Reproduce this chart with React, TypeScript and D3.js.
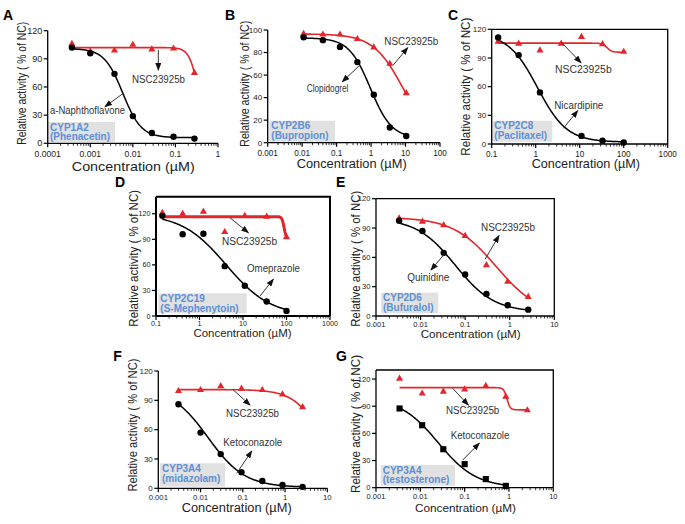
import React from 'react';
import * as d3 from 'd3';

const FONT = "'Liberation Sans', Arial, Helvetica, sans-serif";
const RED = '#e3262b';
const BLUE = '#5b8fd6';
const TAGBG = '#e1e1e1';

// ---------- data ----------
// A: CYP1A2 (Phenacetin)
const concA = [0.00037, 0.001, 0.0037, 0.01, 0.028, 0.09, 0.28];
const naphA = [102, 96, 74, 29, 11, 7, 5];
const nscA = [106, 98, 99, 105, 100, 101, 75];
const fitInhA = [101, 6, 0.0058, 2];
const fitNscA = [102, 0, 0.36, 4];
const xTicksA = [0.0001, 0.001, 0.01, 0.1, 1];

// B: CYP2B6 (Bupropion)
const concB = [0.011, 0.04, 0.125, 0.4, 1.2, 3.5, 10.5];
const clopB = [93.5, 91, 85, 71.5, 42.5, 13.5, 6];
const nscB = [96.5, 96, 96, 92, 84.5, 70, 44];
const fitInhB = [93, 4, 0.95, 1.4];
const fitNscB = [96.5, 0, 8.5, 1];
const xTicksB = [0.001, 0.01, 0.1, 1, 10, 100];

// C: CYP2C8 (Paclitaxel)
const concC = [0.14, 0.41, 1.25, 3.8, 11, 33, 100];
const concCInh = [0.14, 0.41, 1.25, 11, 33, 100];
const nicC = [111.5, 93, 54, 8.5, 3.5, 1.5];
const nscC = [107, 105, 98, 105, 112, 104.5, 96.5];
const fitInhC = [116, 2, 1.1, 1.3];
const fitNscC = [105.5, 96, 42, 8];
const xTicksC = [0.1, 1, 10, 100, 1000];

// D: CYP2C19 (S-Mephenytoin)
const concD = [0.14, 0.41, 1.23, 3.8, 11, 35, 100];
const omeD = [117.5, 96, 96.5, 58.5, 35.5, 17, 6];
const nscD = [121, 120, 122.5, 98.5, 117.5, 116.5, 92.5];
const fitInhD = [120, 0, 4.1, 0.85];
const fitNscD = [116.5, 91, 88, 18];
const xTicksD = [0.1, 1, 10, 100, 1000];

// E: CYP2D6 (Bufuralol)
const concE = [0.0033, 0.011, 0.033, 0.1, 0.3, 0.9, 2.6];
const quinE = [97.5, 87, 64.5, 42.5, 22.5, 11, 6.5];
const nscE = [100, 96.5, 93, 82, 52, 35, 19.5];
const fitInhE = [100, 4, 0.06, 1];
const fitNscE = [101, 0, 0.5, 0.9];
const xTicksE = [0.001, 0.01, 0.1, 1, 10];

// F: CYP3A4 (midazolam)
const concF = [0.003, 0.01, 0.03, 0.093, 0.29, 0.87, 2.6];
const ketoF = [86, 57, 35, 16.5, 7.5, 3.5, 1.5];
const nscF = [99.5, 100.5, 104.5, 102, 100.5, 96, 83];
const fitInhF = [103, 1, 0.015, 1];
const fitNscF = [101, 0, 8, 1.3];

// G: CYP3A4 (testosterone)
const concG = [0.0034, 0.011, 0.033, 0.1, 0.3, 0.85, 2.6];
const concGInh = [0.0034, 0.011, 0.033, 0.1, 0.3, 0.85];
const ketoG = [87.5, 69, 42.5, 26, 9.5, 2];
const nscG = [120.5, 104, 106, 108.5, 112.5, 100.5, 85.5];
const fitInhG = [100, 0, 0.025, 1];
const fitNscG = [110.5, 86, 0.9, 12];
const xTicksFG = [0.001, 0.01, 0.1, 1, 10];

const yTicks120 = [0, 30, 60, 90, 120];
const yTicks100 = [0, 20, 40, 60, 80, 100];

// ---------- layout ----------
type Ann = { text: string; x: number; y: number; w: number; from: [number, number]; to: [number, number] };
type PanelCfg = {
  letter: string; letterPos: [number, number];
  xr: [number, number]; yr: [number, number]; xDom: [number, number]; yDom: [number, number];
  xTicks: number[]; yTicks: number[]; box: number;
  inhConc: number[]; inh: number[]; nscConc: number[]; nsc: number[];
  fitInh: number[]; fitNsc: number[]; square?: boolean; nscW: number;
  yLab: [number, number, number]; xLab: [number, number, number, number];
  xtf: number; ytf: number; xto: number;
  tag: [number, number, number, number]; tagText: [string, string];
  anns: Ann[];
};

const panels: PanelCfg[] = [
  {
    letter: 'A', letterPos: [3, 19.5], xr: [47.7, 218], yr: [143.3, 30.7], xDom: [1e-4, 1], yDom: [0, 120],
    xTicks: xTicksA, yTicks: yTicks120, box: 0,
    inhConc: concA, inh: naphA, nscConc: concA, nsc: nscA, fitInh: fitInhA, fitNsc: fitNscA, nscW: 1.6,
    yLab: [26, 83.3, 123], xLab: [133.3, 171, 123, 13.5], xtf: 8.6, ytf: 9, xto: 13.8,
    tag: [48, 122, 67, 20], tagText: ['CYP1A2', '(Phenacetin)'],
    anns: [
      { text: 'NSC23925b', x: 132, y: 83, w: 53, from: [158.3, 50], to: [158.3, 70] },
      { text: 'a-Naphthoflavone', x: 50, y: 114, w: 75, from: [123.3, 93.3], to: [105, 106.7] },
    ],
  },
  {
    letter: 'B', letterPos: [225, 19.5], xr: [267.7, 440], yr: [142.7, 30], xDom: [1e-3, 100], yDom: [0, 100],
    xTicks: xTicksB, yTicks: yTicks100, box: 0,
    inhConc: concB, inh: clopB, nscConc: concB, nsc: nscB, fitInh: fitInhB, fitNsc: fitNscB, nscW: 1.6,
    yLab: [249, 83.7, 126], xLab: [351.7, 168.3, 110, 12.6], xtf: 8.2, ytf: 8, xto: 13.2,
    tag: [269.3, 120.7, 65.7, 21], tagText: ['CYP2B6', '(Bupropion)'],
    anns: [
      { text: 'NSC23925b', x: 384.3, y: 45, w: 54, from: [393.3, 65], to: [407.7, 47.7] },
      { text: 'Clopidogrel', x: 306.7, y: 91.5, w: 41.7, from: [360, 65], to: [342.3, 81.7] },
    ],
  },
  {
    letter: 'C', letterPos: [448, 19.5], xr: [491.7, 667.7], yr: [144, 29.3], xDom: [0.1, 1000], yDom: [0, 120],
    xTicks: xTicksC, yTicks: yTicks120, box: 1.3,
    inhConc: concCInh, inh: nicC, nscConc: concC, nsc: nscC, fitInh: fitInhC, fitNsc: fitNscC, nscW: 1.6,
    yLab: [470, 86.7, 138], xLab: [585.8, 168.3, 108.3, 12.6], xtf: 8.2, ytf: 8, xto: 12.7,
    tag: [492.3, 120.7, 60, 21], tagText: ['CYP2C8', '(Paclitaxel)'],
    anns: [
      { text: 'NSC23925b', x: 555, y: 73, w: 56.7, from: [561.7, 42.7], to: [581, 62.7] },
      { text: 'Nicardipine', x: 554.3, y: 108.7, w: 49, from: [563.3, 128.3], to: [577.7, 110.7] },
    ],
  },
  {
    letter: 'D', letterPos: [115, 186.7], xr: [156, 330], yr: [316, 196.7], xDom: [0.1, 1000], yDom: [0, 140],
    xTicks: xTicksD, yTicks: yTicks120, box: 2,
    inhConc: concD, inh: omeD, nscConc: concD, nsc: nscD, fitInh: fitInhD, fitNsc: fitNscD, nscW: 3,
    yLab: [138.3, 258.3, 136.7], xLab: [242.5, 337.2, 98, 11], xtf: 7.2, ytf: 7.2, xto: 10,
    tag: [158.3, 293.3, 88.4, 20], tagText: ['CYP2C19', '(S-Mephenytoin)'],
    anns: [
      { text: 'NSC23925b', x: 222, y: 245, w: 55, from: [230, 217.7], to: [248.3, 232.7] },
      { text: 'Omeprazole', x: 247, y: 272, w: 53, from: [260, 296], to: [273.3, 279.3] },
    ],
  },
  {
    letter: 'E', letterPos: [336, 186.7], xr: [376, 554.3], yr: [316, 198.7], xDom: [1e-3, 10], yDom: [0, 120],
    xTicks: xTicksE, yTicks: yTicks120, box: 1.3,
    inhConc: concE, inh: quinE, nscConc: concE, nsc: nscE, fitInh: fitInhE, fitNsc: fitNscE, nscW: 1.6,
    yLab: [360, 258.7, 136], xLab: [470.7, 338, 100, 11.3], xtf: 7.5, ytf: 7.6, xto: 10.8,
    tag: [381, 292.7, 57.3, 20.6], tagText: ['CYP2D6', '(Bufuralol)'],
    anns: [
      { text: 'NSC23925b', x: 481, y: 231, w: 54, from: [485, 259.3], to: [499, 235.7] },
      { text: 'Quinidine', x: 407.3, y: 281, w: 42, from: [445, 253.3], to: [431, 270] },
    ],
  },
  {
    letter: 'F', letterPos: [113.3, 361], xr: [158.3, 327.3], yr: [488.3, 371], xDom: [1e-3, 10], yDom: [0, 120],
    xTicks: xTicksFG, yTicks: yTicks120, box: 0,
    inhConc: concF, inh: ketoF, nscConc: concF, nsc: nscF, fitInh: fitInhF, fitNsc: fitNscF, nscW: 1.6,
    yLab: [137.3, 425, 133], xLab: [236.7, 511.6, 110, 12], xtf: 7.7, ytf: 8, xto: 11.5,
    tag: [160, 463.3, 65, 23.4], tagText: ['CYP3A4', '(midazolam)'],
    anns: [
      { text: 'NSC23925b', x: 226, y: 416.7, w: 53, from: [233.3, 390], to: [250, 405] },
      { text: 'Ketoconazole', x: 223.3, y: 446, w: 59, from: [236.7, 473.3], to: [251.7, 451] },
    ],
  },
  {
    letter: 'G', letterPos: [336, 361], xr: [376, 553.3], yr: [487.7, 370], xDom: [1e-3, 10], yDom: [0, 130],
    xTicks: xTicksFG, yTicks: yTicks120, box: 1.3,
    inhConc: concGInh, inh: ketoG, nscConc: concG, nsc: nscG, fitInh: fitInhG, fitNsc: fitNscG, nscW: 1.6,
    square: true,
    yLab: [360, 424, 138], xLab: [465.5, 511.8, 101, 11.3], xtf: 7.5, ytf: 7.6, xto: 11.2,
    tag: [380.7, 465, 74.3, 20.7], tagText: ['CYP3A4', '(testosterone)'],
    anns: [
      { text: 'NSC23925b', x: 446, y: 414, w: 53.3, from: [452.7, 388.3], to: [468.3, 405] },
      { text: 'Ketoconazole', x: 450.7, y: 439.3, w: 58.7, from: [462.7, 460], to: [479.3, 443.3] },
    ],
  },
];

function logistic(p: number[], x: number) {
  const [top, bottom, ic50, h] = p;
  return bottom + (top - bottom) / (1 + Math.pow(x / ic50, h));
}

function Panel({ p }: { p: PanelCfg }) {
  const x = d3.scaleLog().domain(p.xDom).range(p.xr);
  const y = d3.scaleLinear().domain(p.yDom).range(p.yr);
  const [xl, xr] = p.xr;
  const [yb, yt] = p.yr;

  const sample = (lo: number, hi: number) => d3.range(0, 161).map((i) => lo * Math.pow(hi / lo, i / 160));
  const mkLine = (fit: number[]) => d3.line<number>().x((v) => x(v)).y((v) => y(logistic(fit, v)));
  const inhPath = mkLine(p.fitInh)(sample(p.inhConc[0], p.inhConc[p.inhConc.length - 1])) || '';
  const nscPath = mkLine(p.fitNsc)(sample(p.nscConc[0], p.nscConc[p.nscConc.length - 1])) || '';

  const tri = d3.symbol().type(d3.symbolTriangle).size(22)() || '';
  const sq = d3.symbol().type(d3.symbolSquare).size(38)() || '';

  const minor: number[] = [];
  for (let d = p.xDom[0]; d < p.xDom[1] * 0.999; d *= 10) {
    for (let k = 2; k <= 9; k++) minor.push(d * k);
  }

  const axisW = p.box === 2 ? 2 : 1.3;

  return (
    <g>
      <text x={p.letterPos[0]} y={p.letterPos[1]} fontFamily={FONT} fontWeight="bold" fontSize={14} fill="#000">
        {p.letter}
      </text>
      {/* tag box */}
      <rect x={p.tag[0]} y={p.tag[1]} width={p.tag[2]} height={p.tag[3]} fill={TAGBG} />
      <text x={p.tag[0] + 2} y={p.tag[1] + 8.6} fontFamily={FONT} fontWeight="bold" fontSize={10} fill={BLUE}>
        {p.tagText[0]}
      </text>
      <text x={p.tag[0] + 2} y={p.tag[1] + 18.2} fontFamily={FONT} fontWeight="bold" fontSize={10} fill={BLUE}>
        {p.tagText[1]}
      </text>
      {/* box */}
      {p.box > 0 && (
        <path d={`M${xl},${yt} L${xr},${yt} L${xr},${yb}`} fill="none" stroke="#000" strokeWidth={p.box} />
      )}
      {/* axes */}
      <line x1={xl} x2={xl} y1={yt} y2={yb} stroke="#000" strokeWidth={axisW} />
      <line x1={xl} x2={xr} y1={yb} y2={yb} stroke="#000" strokeWidth={axisW} />
      {p.yTicks.map((t) => (
        <g key={'y' + t}>
          <line x1={xl - 4} x2={xl} y1={y(t)} y2={y(t)} stroke="#000" strokeWidth={1.2} />
          <text x={xl - 5.5} y={y(t)} dy="0.35em" textAnchor="end" fontFamily={FONT} fontSize={p.ytf} fill="#222">
            {t}
          </text>
        </g>
      ))}
      {minor.map((t, i) => (
        <line key={'m' + i} x1={x(t)} x2={x(t)} y1={yb} y2={yb + 2.5} stroke="#000" strokeWidth={0.8} />
      ))}
      {p.xTicks.map((t) => (
        <g key={'x' + t}>
          <line x1={x(t)} x2={x(t)} y1={yb} y2={yb + 4} stroke="#000" strokeWidth={1.2} />
          <text x={x(t)} y={yb + p.xto} textAnchor="middle" fontFamily={FONT} fontSize={p.xtf} fill="#222">
            {String(t)}
          </text>
        </g>
      ))}
      {/* axis titles */}
      <text
        x={p.xLab[0]} y={p.xLab[1]} textAnchor="middle" fontFamily={FONT} fontSize={p.xLab[3]} fill="#222"
        textLength={p.xLab[2]} lengthAdjust="spacingAndGlyphs"
      >
        Concentration (µM)
      </text>
      <text
        transform={`translate(${p.yLab[0]},${p.yLab[1]}) rotate(-90)`} textAnchor="middle" fontFamily={FONT}
        fontSize={13.5} fill="#222" textLength={p.yLab[2]} lengthAdjust="spacingAndGlyphs"
      >
        Relative activity ( % of NC)
      </text>
      {/* curves */}
      <path d={nscPath} fill="none" stroke={RED} strokeWidth={p.nscW} />
      <path d={inhPath} fill="none" stroke="#000" strokeWidth={1.5} />
      {p.nscConc.map((c, i) => (
        <path key={'t' + i} d={tri} transform={`translate(${x(c)},${y(p.nsc[i])})`} fill={RED} />
      ))}
      {p.inhConc.map((c, i) =>
        p.square ? (
          <path key={'s' + i} d={sq} transform={`translate(${x(c)},${y(p.inh[i])})`} fill="#000" />
        ) : (
          <circle key={'c' + i} cx={x(c)} cy={y(p.inh[i])} r={3.2} fill="#000" />
        )
      )}
      {/* annotations */}
      {p.anns.map((a, i) => (
        <g key={'a' + i}>
          <line
            x1={a.from[0]} y1={a.from[1]} x2={a.to[0]} y2={a.to[1]} stroke="#333" strokeWidth={1}
            markerEnd="url(#arrowHead)"
          />
          <text
            x={a.x} y={a.y} fontFamily={FONT} fontSize={10} fill="#333" textLength={a.w}
            lengthAdjust="spacingAndGlyphs"
          >
            {a.text}
          </text>
        </g>
      ))}
    </g>
  );
}

export default function App() {
  return (
    <svg
      width={685} height={524} viewBox="0 0 685 524"
      style={{ position: 'absolute', left: 0, top: 0, background: '#fff' }}
    >
      <defs>
        <marker
          id="arrowHead" viewBox="0 0 8 6" refX={7} refY={3} markerWidth={8} markerHeight={6}
          markerUnits="userSpaceOnUse" orient="auto"
        >
          <path d="M0,0 L8,3 L0,6 z" fill="#111" />
        </marker>
      </defs>
      <rect x={0} y={0} width={685} height={524} fill="#fff" />
      {panels.map((p) => (
        <Panel key={p.letter} p={p} />
      ))}
    </svg>
  );
}
